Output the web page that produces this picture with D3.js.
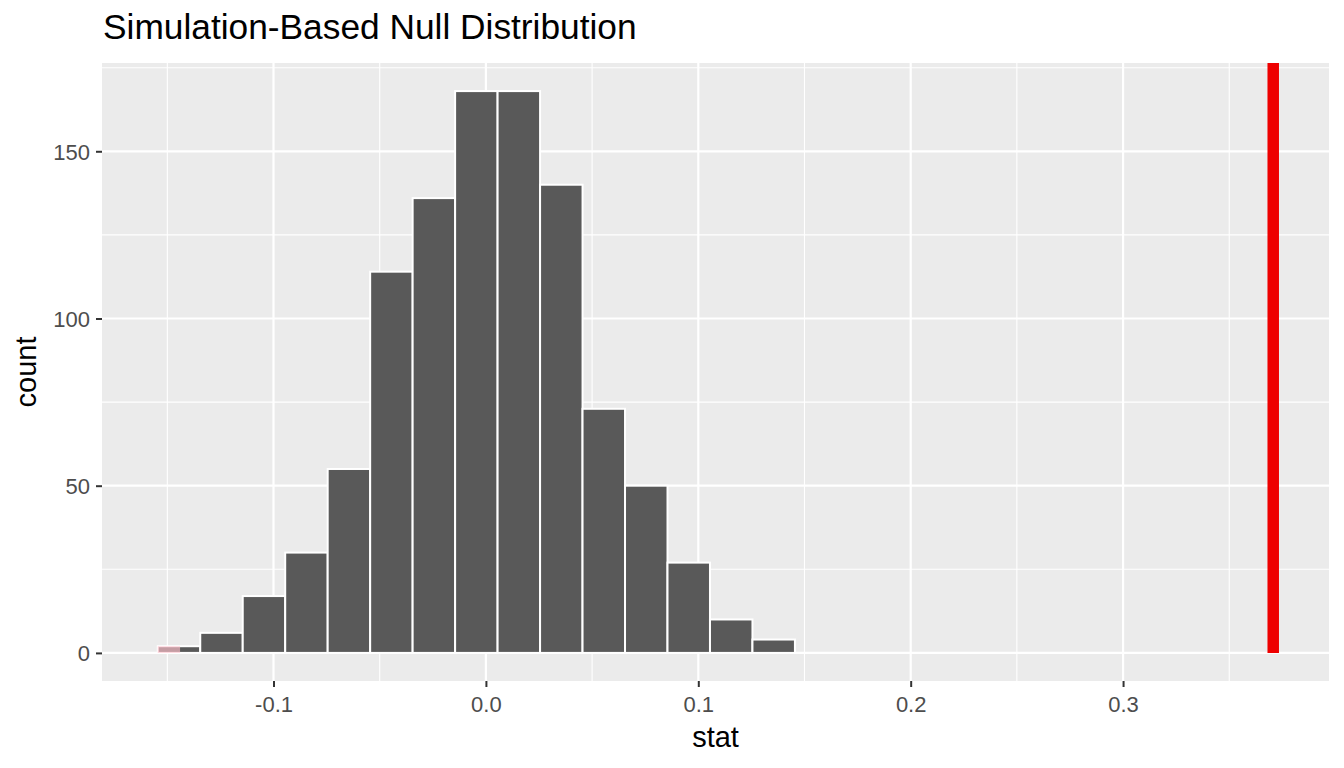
<!DOCTYPE html>
<html>
<head>
<meta charset="utf-8">
<script src="https://cdn.jsdelivr.net/npm/d3@7"></script>
<style>
  html, body { margin: 0; padding: 0; background: #ffffff; }
  svg { display: block; font-family: "Liberation Sans", Arial, sans-serif; }
</style>
</head>
<body>
<div id="chart"></div>
<script>
// Histogram of the simulated null statistic (15 bins)
const binStart = -0.1545;
const binWidth = 0.02;
const counts = [2, 6, 17, 30, 55, 114, 136, 168, 168, 140, 73, 50, 27, 10, 4];

// Observed statistic and shaded tail
const obsStat = 0.3707;
const shadeFrom = -0.1545;
const shadeTo = -0.144;
const shadeCount = 2;

const xTicks = [-0.1, 0.0, 0.1, 0.2, 0.3];
const xMinor = [-0.15, -0.05, 0.05, 0.15, 0.25, 0.35];
const yTicks = [0, 50, 100, 150];
const yMinor = [25, 75, 125, 175];

const titleText = 'Simulation-Based Null Distribution';
const xLabel = 'stat';
const yLabel = 'count';

const width = 1344, height = 768;
const panel = { left: 102, right: 1329, top: 63, bottom: 681 };

const bins = counts.map((c, i) => ({
  x0: binStart + i * binWidth,
  x1: binStart + (i + 1) * binWidth,
  count: c
}));

// ggplot-style 5% expansion
const xMinData = d3.min(bins, d => d.x0);
const xMaxData = Math.max(d3.max(bins, d => d.x1), obsStat);
const xPad = (xMaxData - xMinData) * 0.05;
const yMaxData = d3.max(counts);
const yPad = yMaxData * 0.05;

const x = d3.scaleLinear()
  .domain([xMinData - xPad, xMaxData + xPad])
  .range([panel.left, panel.right]);

const y = d3.scaleLinear()
  .domain([-yPad, yMaxData + yPad])
  .range([panel.bottom, panel.top]);

const svg = d3.select('#chart')
  .append('svg')
  .attr('width', width)
  .attr('height', height)
  .attr('viewBox', `0 0 ${width} ${height}`);

// Panel background
svg.append('rect')
  .attr('x', panel.left)
  .attr('y', panel.top)
  .attr('width', panel.right - panel.left)
  .attr('height', panel.bottom - panel.top)
  .attr('fill', '#ebebeb');

const grid = svg.append('g');

// Minor grid
grid.selectAll('line.xminor')
  .data(xMinor)
  .enter()
  .append('line')
  .attr('x1', d => x(d)).attr('x2', d => x(d))
  .attr('y1', panel.top).attr('y2', panel.bottom)
  .attr('stroke', '#ffffff')
  .attr('stroke-width', 1.1);

grid.selectAll('line.yminor')
  .data(yMinor)
  .enter()
  .append('line')
  .attr('x1', panel.left).attr('x2', panel.right)
  .attr('y1', d => y(d)).attr('y2', d => y(d))
  .attr('stroke', '#ffffff')
  .attr('stroke-width', 1.1);

// Major grid
grid.selectAll('line.xmajor')
  .data(xTicks)
  .enter()
  .append('line')
  .attr('x1', d => x(d)).attr('x2', d => x(d))
  .attr('y1', panel.top).attr('y2', panel.bottom)
  .attr('stroke', '#ffffff')
  .attr('stroke-width', 2.2);

grid.selectAll('line.ymajor')
  .data(yTicks)
  .enter()
  .append('line')
  .attr('x1', panel.left).attr('x2', panel.right)
  .attr('y1', d => y(d)).attr('y2', d => y(d))
  .attr('stroke', '#ffffff')
  .attr('stroke-width', 2.2);

// Bars
svg.append('g')
  .selectAll('rect.bar')
  .data(bins)
  .enter()
  .append('rect')
  .attr('class', 'bar')
  .attr('x', d => x(d.x0))
  .attr('width', d => x(d.x1) - x(d.x0))
  .attr('y', d => y(d.count))
  .attr('height', d => y(0) - y(d.count))
  .attr('fill', '#595959')
  .attr('stroke', '#ffffff')
  .attr('stroke-width', 2);

// Shaded p-value region
svg.append('rect')
  .attr('x', x(shadeFrom))
  .attr('width', x(shadeTo) - x(shadeFrom))
  .attr('y', y(shadeCount))
  .attr('height', y(0) - y(shadeCount))
  .attr('fill', '#ffc0cb')
  .attr('fill-opacity', 0.65);

// Observed statistic
svg.append('line')
  .attr('x1', x(obsStat)).attr('x2', x(obsStat))
  .attr('y1', y(0)).attr('y2', panel.top)
  .attr('stroke', '#ee0000')
  .attr('stroke-width', 11.5);

// Axes (ticks + labels)
const xAxis = svg.append('g')
  .attr('transform', `translate(0, ${panel.bottom})`)
  .call(d3.axisBottom(x).tickValues(xTicks).tickFormat(d3.format('.1f')).tickSize(6).tickPadding(0));
xAxis.select('.domain').remove();
xAxis.selectAll('.tick line').attr('stroke', '#333333').attr('stroke-width', 2);
xAxis.selectAll('.tick text')
  .attr('y', 31)
  .attr('dy', null)
  .attr('fill', '#4d4d4d')
  .attr('font-size', 22)
  .attr('font-family', '"Liberation Sans", Arial, sans-serif')
  .text(d => d3.format('.1f')(d).replace('−', '-'));

const yAxis = svg.append('g')
  .attr('transform', `translate(${panel.left}, 0)`)
  .call(d3.axisLeft(y).tickValues(yTicks).tickSize(6).tickPadding(0));
yAxis.select('.domain').remove();
yAxis.selectAll('.tick line').attr('stroke', '#333333').attr('stroke-width', 2);
yAxis.selectAll('.tick text')
  .attr('x', -12)
  .attr('dy', '0.36em')
  .attr('fill', '#4d4d4d')
  .attr('font-size', 22)
  .attr('font-family', '"Liberation Sans", Arial, sans-serif');

// Titles
svg.append('text')
  .attr('x', panel.left + 1)
  .attr('y', 39)
  .attr('font-size', 35.3)
  .attr('fill', '#000000')
  .text(titleText);

svg.append('text')
  .attr('x', (panel.left + panel.right) / 2)
  .attr('y', 746.5)
  .attr('text-anchor', 'middle')
  .attr('font-size', 29)
  .attr('fill', '#000000')
  .text(xLabel);

svg.append('text')
  .attr('transform', `translate(36, ${(panel.top + panel.bottom) / 2}) rotate(-90)`)
  .attr('text-anchor', 'middle')
  .attr('font-size', 29)
  .attr('fill', '#000000')
  .text(yLabel);
</script>
</body>
</html>
